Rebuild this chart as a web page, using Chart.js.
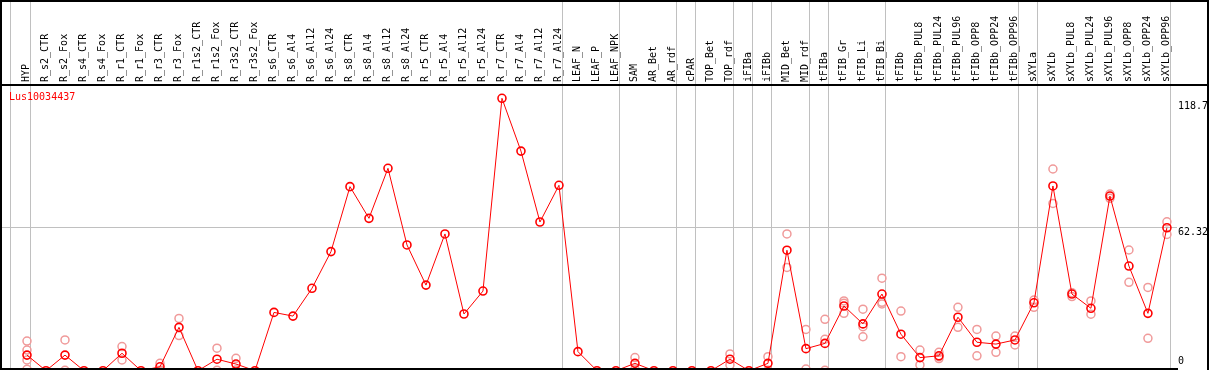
<!DOCTYPE html>
<html>
<head>
<meta charset="utf-8">
<script src="https://cdn.jsdelivr.net/npm/chart.js@4/dist/chart.umd.min.js"></script>
<style>
  html, body { margin: 0; padding: 0; background: #fff; overflow: hidden; }
  #wrap { width: 1209px; height: 370px; overflow: hidden; }
</style>
</head>
<body>
<div id="wrap"><canvas id="grafico" width="1209" height="372"></canvas></div>
<script>
const titulo = 'Lus10034437';

const categorias = [
  'HYP', 'R_s2_CTR', 'R_s2_Fox', 'R_s4_CTR', 'R_s4_Fox', 'R_r1_CTR', 'R_r1_Fox',
  'R_r3_CTR', 'R_r3_Fox', 'R_r1s2_CTR', 'R_r1s2_Fox', 'R_r3s2_CTR', 'R_r3s2_Fox',
  'R_s6_CTR', 'R_s6_Al4', 'R_s6_Al12', 'R_s6_Al24', 'R_s8_CTR', 'R_s8_Al4',
  'R_s8_Al12', 'R_s8_Al24', 'R_r5_CTR', 'R_r5_Al4', 'R_r5_Al12', 'R_r5_Al24',
  'R_r7_CTR', 'R_r7_Al4', 'R_r7_Al12', 'R_r7_Al24', 'LEAF_N', 'LEAF_P', 'LEAF_NPK',
  'SAM', 'AR_Bet', 'AR_rdf', 'cPAR', 'TOP_Bet', 'TOP_rdf', 'iFIBa', 'iFIBb',
  'MID_Bet', 'MID_rdf', 'tFIBa', 'tFIB_Gr', 'tFIB_Li', 'tFIB_Bi', 'tFIBb',
  'tFIBb_PUL8', 'tFIBb_PUL24', 'tFIBb_PUL96', 'tFIBb_OPP8', 'tFIBb_OPP24', 'tFIBb_OPP96',
  'sXYLa', 'sXYLb', 'sXYLb_PUL8', 'sXYLb_PUL24', 'sXYLb_PUL96', 'sXYLb_OPP8',
  'sXYLb_OPP24', 'sXYLb_OPP96'
];

// media por muestra
const medias = [
  6.8, 0, 6.8, 0, 0, 7.6, 0,
  1.7, 18.9, 0, 5.0, 2.9, 0,
  25.4, 23.8, 35.9, 51.9, 80.2, 66.4,
  88.2, 54.8, 37.3, 59.6, 24.7, 34.7,
  118.7, 95.7, 64.8, 80.8, 8.3, 0, 0,
  3.2, 0, 0, 0, 0, 5.0, 0, 3.2,
  52.5, 9.6, 11.9, 28.2, 20.4, 33.4, 15.9,
  5.7, 6.5, 23.3, 12.4, 11.6, 13.4,
  29.6, 80.5, 33.4, 27.2, 76.1, 45.6,
  25.0, 62.3
];

// replicas (vacio = sin replicas visibles)
const replicas = [
  [12.9, 9.0, 4.7, 0.6], [], [13.4, 0.2], [], [], [10.5, 4.7], [],
  [3.2, 0.2], [22.8, 15.3], [], [9.8, 0.2], [5.4, 0.3], [],
  [], [], [], [], [], [],
  [], [], [], [], [], [],
  [], [], [], [], [], [], [],
  [5.7, 0.7], [], [], [], [], [7.3, 2.5], [], [6.1, 0.2],
  [59.6, 45.0], [18.0, 0.7], [22.4, 13.7, 0.2], [30.4, 29.4, 25.0], [26.8, 19.2, 14.8], [40.3, 29.8, 29.1], [26.0, 6.1],
  [9.0, 2.5], [8.0, 6.1, 5.3], [27.6, 18.9], [18.0, 6.5], [15.1, 8.0], [15.1, 11.2],
  [30.8, 27.6], [87.9, 72.9], [34.0, 32.3], [30.4, 24.6], [77.0, 75.1], [52.6, 38.5],
  [36.3, 14.1], [64.9, 59.4]
];

const etiquetasY = ['118.7', '62.32', '0'];
const valoresY = [118.7, 62.32, 0];

// separadores verticales (despues de estas muestras)
const separadores = [-0.88, 0.16, 28.16, 31.16, 34.16, 35.16, 37.16, 38.16, 39.16,
  41.16, 42.16, 45.16, 52.16, 53.16, 60.16];

const puntosMedia = medias.map((v, i) => ({ x: i, y: v }));
const puntosReplica = [];
replicas.forEach((lista, i) => lista.forEach(v => puntosReplica.push({ x: i, y: v })));

const fuente = '10px "DejaVu Sans Mono", monospace';

const decoracion = {
  id: 'decoracion',
  beforeDatasetsDraw(chart) {
    const { ctx, scales: { x } } = chart;
    ctx.save();
    ctx.strokeStyle = '#c0c0c0';
    ctx.lineWidth = 1;
    separadores.forEach(s => {
      const px = Math.round(x.getPixelForValue(s)) + 0.5;
      ctx.beginPath();
      ctx.moveTo(px, 0);
      ctx.lineTo(px, 370);
      ctx.stroke();
    });
    ctx.restore();
  },
  afterDraw(chart) {
    const { ctx, scales: { x, y } } = chart;
    ctx.save();
    // marco
    ctx.fillStyle = '#000';
    ctx.fillRect(0, 0, 1209, 2);
    ctx.fillRect(0, 0, 2, 370);
    ctx.fillRect(1207, 0, 2, 370);
    ctx.fillRect(0, 84, 1209, 2);
    ctx.fillRect(0, 368, 1178, 2);

    // etiquetas de muestras
    ctx.font = fuente;
    ctx.fillStyle = '#000';
    ctx.textAlign = 'left';
    ctx.textBaseline = 'middle';
    categorias.forEach((c, i) => {
      const px = x.getPixelForValue(i) - 1;
      ctx.save();
      ctx.translate(px, 82);
      ctx.rotate(-Math.PI / 2);
      ctx.fillText(c, 0, 0);
      ctx.restore();
    });

    // titulo
    ctx.fillStyle = '#ff0000';
    ctx.fillText(titulo, 9, 97);

    // etiquetas eje derecho
    ctx.fillStyle = '#000';
    const ajustes = [8, 5, -9];
    valoresY.forEach((v, i) => {
      ctx.fillText(etiquetasY[i], 1178, y.getPixelForValue(v) + ajustes[i]);
    });
    ctx.restore();
  }
};

const ctx = document.getElementById('grafico').getContext('2d');
const grafico = new Chart(ctx, {
  type: 'scatter',
  data: {
    datasets: [
      {
        label: 'media',
        data: puntosMedia,
        showLine: true,
        borderColor: '#ff0000',
        borderWidth: 1,
        pointRadius: 4,
        pointBorderWidth: 1.6,
        pointBorderColor: '#ff0000',
        pointBackgroundColor: 'rgba(0,0,0,0)',
        clip: false,
        order: 1
      },
      {
        label: 'replicas',
        data: puntosReplica,
        showLine: false,
        pointRadius: 4,
        pointBorderWidth: 1.5,
        pointBorderColor: '#f09a9a',
        pointBackgroundColor: 'rgba(0,0,0,0)',
        clip: false,
        order: 2
      }
    ]
  },
  options: {
    responsive: false,
    animation: false,
    devicePixelRatio: 1,
    layout: { autoPadding: false, padding: { left: 1, right: 32, top: 85, bottom: 1.3 } },
    plugins: {
      legend: { display: false },
      tooltip: { enabled: false }
    },
    scales: {
      x: {
        type: 'linear',
        min: -1.368,
        max: 60.53,
        display: false
      },
      y: {
        type: 'linear',
        position: 'right',
        min: 0,
        max: 124.5,
        afterBuildTicks: axis => { axis.ticks = [{ value: 62.32 }]; },
        ticks: { display: false },
        border: { display: false },
        grid: { color: '#c0c0c0', lineWidth: 1, drawTicks: false }
      }
    }
  },
  plugins: [decoracion]
});
</script>
</body>
</html>
